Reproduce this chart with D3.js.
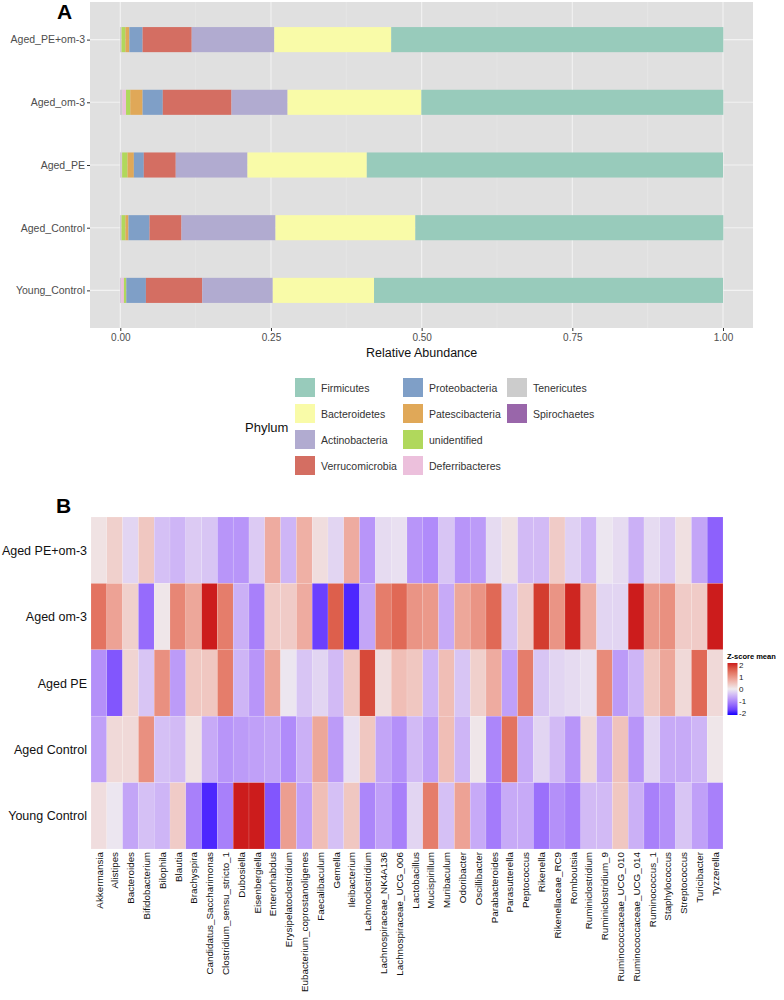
<!DOCTYPE html>
<html>
<head>
<meta charset="utf-8">
<script src="https://cdn.jsdelivr.net/npm/d3@7"></script>
<style>
  body { margin: 0; background: #fff; }
  text { font-family: "Liberation Sans", Arial, sans-serif; }
</style>
</head>
<body>
<div id="viz"></div>
<script>
// ---- panel A data ----
var groups = ['Aged_PE+om-3', 'Aged_om-3', 'Aged_PE', 'Aged_Control', 'Young_Control'];
var phyla = ['Firmicutes', 'Bacteroidetes', 'Actinobacteria', 'Verrucomicrobia', 'Proteobacteria',
  'Patescibacteria', 'unidentified', 'Deferribacteres', 'Tenericutes', 'Spirochaetes'];
var phylaColors = ['#98cbbb', '#f9fba8', '#b1abd0', '#d46e62', '#7f9fc7',
  '#e0a858', '#b0d85c', '#ecc0dc', '#cccccc', '#9966aa'];

// relative abundance per phylum, values in the order of groups
var firmicutes      = [0.551, 0.501, 0.591, 0.511, 0.579];
var bacteroidetes   = [0.194, 0.222, 0.198, 0.232, 0.168];
var actinobacteria  = [0.137, 0.093, 0.119, 0.156, 0.117];
var verrucomicrobia = [0.0815, 0.114, 0.053, 0.053, 0.0935];
var proteobacteria  = [0.022, 0.0335, 0.0165, 0.035, 0.0325];
var patescibacteria = [0.0065, 0.0205, 0.0105, 0.005, 0.0005];
var unidentified    = [0.0065, 0.007, 0.009, 0.0065, 0.0035];
var deferribacteres = [0.0005, 0.006, 0.0005, 0.0005, 0.0045];
var tenericutes     = [0.001, 0.003, 0.002, 0.001, 0.001];
var spirochaetes    = [0.0005, 0.0005, 0.0005, 0.0005, 0.0005];
var abundance = [firmicutes, bacteroidetes, actinobacteria, verrucomicrobia, proteobacteria,
  patescibacteria, unidentified, deferribacteres, tenericutes, spirochaetes];
var xTicks = [0, 0.25, 0.5, 0.75, 1];

// ---- panel B data ----
var rowNames = ['Aged PE+om-3', 'Aged om-3', 'Aged PE', 'Aged Control', 'Young Control'];
var genera = ['Akkermansia', 'Alistipes', 'Bacteroides', 'Bifidobacterium', 'Bilophila', 'Blautia',
  'Brachyspira', 'Candidatus_Saccharimonas', 'Clostridium_sensu_stricto_1', 'Dubosiella',
  'Eisenbergiella', 'Enterorhabdus', 'Erysipelatoclostridium', 'Eubacterium_coprostanoligenes',
  'Faecalibaculum', 'Gemella', 'Ileibacterium', 'Lachnoclostridium', 'Lachnospiraceae_NK4A136',
  'Lachnospiraceae_UCG_006', 'Lactobacillus', 'Mucispirillum', 'Muribaculum', 'Odoribacter',
  'Oscillibacter', 'Parabacteroides', 'Parasutterella', 'Peptococcus', 'Rikenella',
  'Rikenellaceae_RC9', 'Romboutsia', 'Ruminiclostridium', 'Ruminiclostridium_9',
  'Ruminococcaceae_UCG_010', 'Ruminococcaceae_UCG_014', 'Ruminococcus_1', 'Staphylococcus',
  'Streptococcus', 'Turicibacter', 'Tyzzerella'];
// z-score mean per genus, one array per row
var zPEom3 = [0.1, 0.3, -0.2, 0.4, -0.4, -0.5, -0.3, -0.35, -0.8, -0.8, -0.3, 0.7, -0.5, 0.65, 0.15,
  -0.2, 0.7, -0.8, -0.15, -0.1, -0.8, -0.9, -0.35, -0.8, -0.75, -0.15, 0.1, -0.45, -0.45, 0.35,
  -0.25, -0.5, -0.05, -0.15, -0.55, -0.15, -0.3, 0.12, -0.65, -1.3];
var zOm3 = [1.3, 0.8, 0.3, -1.2, 0.05, 1.1, 0.75, 2.0, 1.2, -0.55, -1.0, 0.35, 0.35, 0.7, -1.6,
  1.5, -1.8, -0.65, 1.2, 1.4, 0.95, 0.9, -0.6, 0.75, 0.95, 1.4, -0.35, 0.35, 1.8, 0.95,
  1.95, 0.7, -0.2, -0.2, 2.0, 0.9, 1.0, 0.35, 0.35, 2.0];
var zPE = [-0.85, -1.4, 0.25, -0.35, 1.0, -0.75, 0.4, 0.4, 1.2, -0.5, -0.8, 0.75, -0.05, -0.35, -0.2,
  -0.45, 0.4, 1.7, 0.15, 0.5, 0.4, -0.5, 0.5, -0.35, 0.3, 0.7, -0.7, 1.2, -0.35, -0.2,
  -0.15, -0.1, 1.05, -0.75, -0.5, 0.4, 0.75, 0.2, 1.4, 0.2];
var zControl = [-0.7, 0.2, 0.2, 1.0, -0.4, -0.45, 0.1, -0.6, -0.8, -0.75, -0.7, -0.65, -0.9, -0.55, 0.75,
  -0.75, -0.1, 0.4, -0.65, -0.85, -0.45, -0.7, 0.5, -0.5, 0.05, -0.95, 1.3, -0.6, -0.2, -0.45,
  -0.8, 0.2, -0.6, 0.45, -0.8, -0.2, -0.6, -0.6, -0.5, 0.05];
var zYoung = [0.15, -0.05, -0.65, -0.4, -0.5, 0.35, -1.0, -1.8, -1.0, 2.0, 2.0, -1.4, 0.85, -0.7, 0.5,
  -0.4, 0.4, -0.95, -0.7, -1.0, -0.2, 1.2, -0.4, 0.8, -0.6, -1.05, -0.6, -0.6, -1.15, -0.85,
  -1.0, -0.45, -0.45, 0.4, -0.55, -1.0, -0.85, -0.35, -0.7, -1.0];
var zRows = [zPEom3, zOm3, zPE, zControl, zYoung];
var zTicks = [2, 1, 0, -1, -2];

var svg = d3.select('#viz').append('svg')
  .attr('width', 784)
  .attr('height', 1000);

// ================= panel A =================
var x = d3.scaleLinear().domain([0, 1]).range([120.3, 723]);
var y = d3.scalePoint().domain(groups).range([2, 328]).padding(0.6);
var barH = y.step() * 0.4;

svg.append('rect')
  .attr('x', 90).attr('y', 2).attr('width', 663).attr('height', 326)
  .attr('fill', '#e0e0e0');

// minor grid
var minor = [0.125, 0.375, 0.625, 0.875];
svg.selectAll('.minor').data(minor).enter().append('line')
  .attr('x1', function (d) { return x(d); }).attr('x2', function (d) { return x(d); })
  .attr('y1', 2).attr('y2', 328)
  .attr('stroke', '#eaeaea').attr('stroke-width', 0.6);
// major grid
svg.selectAll('.vmajor').data(xTicks).enter().append('line')
  .attr('x1', function (d) { return x(d); }).attr('x2', function (d) { return x(d); })
  .attr('y1', 2).attr('y2', 328)
  .attr('stroke', '#f2f2f2').attr('stroke-width', 1.1);
svg.selectAll('.hmajor').data(groups).enter().append('line')
  .attr('x1', 90).attr('x2', 753)
  .attr('y1', function (d) { return y(d); }).attr('y2', function (d) { return y(d); })
  .attr('stroke', '#f2f2f2').attr('stroke-width', 1.1);

// stacked bars: last phylum sits at the left
groups.forEach(function (g, gi) {
  var start = 0;
  for (var p = phyla.length - 1; p >= 0; p--) {
    var v = abundance[p][gi];
    svg.append('rect')
      .attr('x', x(start))
      .attr('y', y(g) - barH / 2)
      .attr('width', x(start + v) - x(start))
      .attr('height', barH)
      .attr('fill', phylaColors[p]);
    start += v;
  }
});

var yAxis = svg.append('g')
  .attr('transform', 'translate(90,0)')
  .call(d3.axisLeft(y).tickSize(3).tickPadding(2));
yAxis.select('.domain').remove();
yAxis.selectAll('line').attr('stroke', '#333');
yAxis.selectAll('text').attr('fill', '#4d4d4d').style('font-size', '10.5px');

var xAxis = svg.append('g')
  .attr('transform', 'translate(0,328)')
  .call(d3.axisBottom(x).tickValues(xTicks).tickFormat(d3.format('.2f')).tickSize(3).tickPadding(3));
xAxis.select('.domain').remove();
xAxis.selectAll('line').attr('stroke', '#333');
xAxis.selectAll('text').attr('fill', '#4d4d4d').style('font-size', '10px');

svg.append('text')
  .attr('x', x(0.5)).attr('y', 357)
  .attr('text-anchor', 'middle')
  .style('font-size', '12.5px').attr('fill', '#111')
  .text('Relative Abundance');

svg.append('text')
  .attr('x', 57).attr('y', 19)
  .style('font-size', '21px').style('font-weight', 'bold')
  .text('A');

// legend
svg.append('text')
  .attr('x', 245).attr('y', 432)
  .style('font-size', '13px').attr('fill', '#111')
  .text('Phylum');

var legend = svg.selectAll('.key').data(phyla).enter().append('g')
  .attr('transform', function (d, i) {
    var col = Math.floor(i / 4), row = i % 4;
    var lx = [295, 403, 507][col];
    return 'translate(' + lx + ',' + (378 + row * 26) + ')';
  });
legend.append('rect')
  .attr('width', 20).attr('height', 19)
  .attr('fill', function (d, i) { return phylaColors[i]; });
legend.append('text')
  .attr('x', 26).attr('y', 13.5)
  .style('font-size', '10.5px').attr('fill', '#333')
  .text(function (d) { return d; });

// ================= panel B =================
svg.append('text')
  .attr('x', 56).attr('y', 513)
  .style('font-size', '21px').style('font-weight', 'bold')
  .text('B');

var hx = d3.scaleBand().domain(genera).range([91, 723]);
var hy = d3.scaleBand().domain(rowNames).range([517, 849]);
var color = d3.scaleLinear().domain([-2, 0, 2])
  .range(['#1400ff', '#efebef', '#cc1c1c'])
  .interpolate(d3.interpolateLab)
  .clamp(true);

rowNames.forEach(function (r, ri) {
  svg.selectAll('.cell' + ri).data(zRows[ri]).enter().append('rect')
    .attr('x', function (d, i) { return hx(genera[i]); })
    .attr('y', hy(r))
    .attr('width', hx.bandwidth())
    .attr('height', hy.bandwidth())
    .attr('fill', function (d) { return color(d); })
    .attr('stroke', '#ffffff').attr('stroke-opacity', 0.25).attr('stroke-width', 0.5);
});

svg.selectAll('.rowlab').data(rowNames).enter().append('text')
  .attr('x', 87)
  .attr('y', function (d) { return hy(d) + hy.bandwidth() / 2 + 4.5; })
  .attr('text-anchor', 'end')
  .style('font-size', '12.5px').attr('fill', '#111')
  .text(function (d) { return d; });

svg.selectAll('.collab').data(genera).enter().append('text')
  .attr('transform', function (d) {
    return 'translate(' + (hx(d) + hx.bandwidth() / 2 + 3.6) + ',852) rotate(-90)';
  })
  .attr('text-anchor', 'end')
  .style('font-size', '9.8px').attr('fill', '#111')
  .text(function (d) { return d; });

// z-score colour key
var defs = svg.append('defs');
var grad = defs.append('linearGradient').attr('id', 'zgrad')
  .attr('x1', 0).attr('y1', 0).attr('x2', 0).attr('y2', 1);
d3.range(0, 1.0001, 0.1).forEach(function (t) {
  grad.append('stop').attr('offset', t).attr('stop-color', color(2 - 4 * t));
});
var keyY = d3.scaleLinear().domain([2, -2]).range([665, 713]);
svg.append('text')
  .attr('x', 727).attr('y', 659)
  .style('font-size', '7.5px').style('font-weight', 'bold')
  .text('Z-score mean');
svg.append('rect')
  .attr('x', 727.5).attr('y', 663).attr('width', 10).attr('height', 52)
  .attr('fill', 'url(#zgrad)');
svg.selectAll('.zt').data(zTicks).enter().append('text')
  .attr('x', 739)
  .attr('y', function (d) { return keyY(d) + 3; })
  .style('font-size', '8px').attr('fill', '#222')
  .text(function (d) { return d; });
</script>
</body>
</html>
